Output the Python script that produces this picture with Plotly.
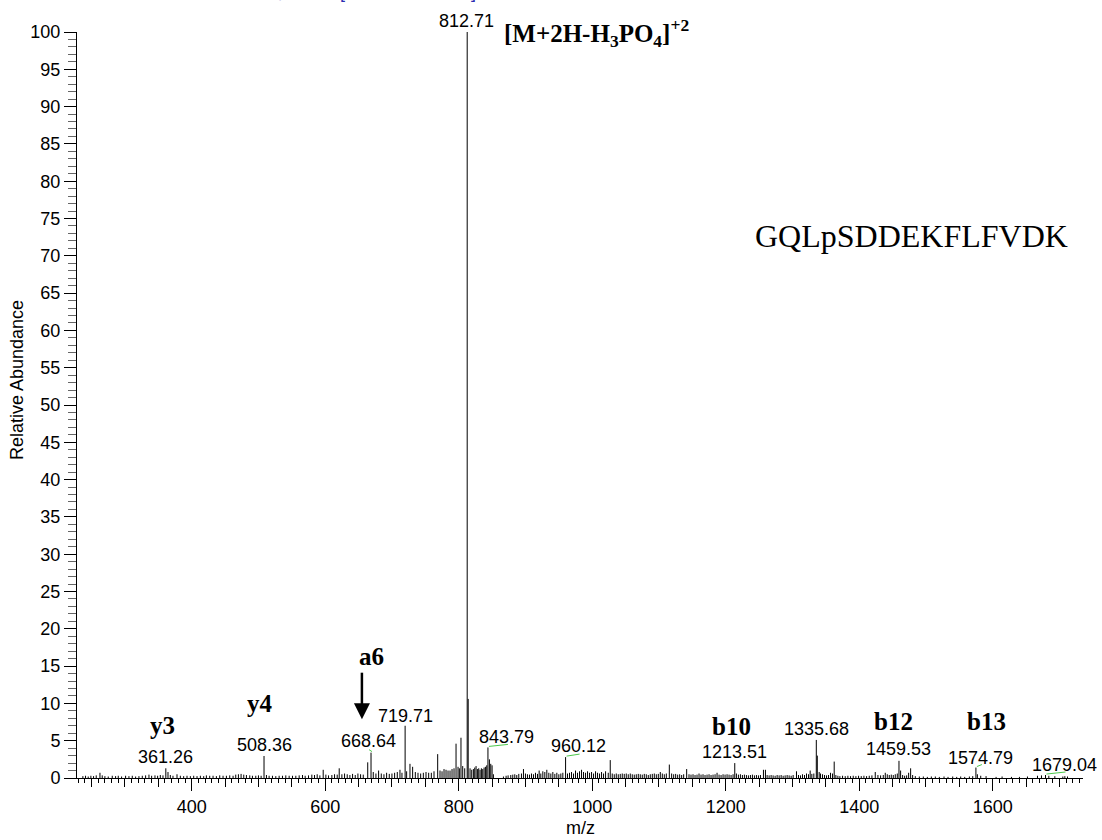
import plotly.graph_objects as go

# ---- spectrum data (m/z, relative abundance %) ----
labelled_mz = [361.26, 508.36, 668.64, 719.71, 812.71, 843.79,
               960.12, 1213.51, 1335.68, 1459.53, 1574.79, 1679.04]
labelled_rel = [1.3, 2.95, 3.4, 7.0, 100.0, 4.1,
                2.8, 2.0, 5.1, 2.3, 1.4, 0.4]

other_mz = [
    237, 241, 245, 249, 253, 257, 262.6, 266, 270, 275, 281, 286, 290, 295,
    301, 306, 311, 316, 321, 326, 331, 336, 340, 345, 349, 353, 357, 364.5, 368, 372, 378, 383, 388, 393, 398,
    403, 408, 413, 418, 422, 427, 432, 437, 442, 447, 452, 457, 462, 466, 470, 474, 478, 482, 487, 491, 496,
    500, 504, 512, 516, 521, 526, 531, 536, 541, 546, 551, 556, 561, 566, 570, 575, 580, 584, 588, 592, 597,
    601, 605, 610, 614, 618, 621, 625, 629, 633, 637, 641, 645, 649, 653, 657, 663.7, 672, 676, 680, 684, 688, 692, 696,
    700, 704, 708, 712, 715, 722, 727, 731, 735, 739, 743, 747, 751, 755, 759, 763, 768.5, 772, 775, 778, 781, 784, 787, 790, 793, 796, 799,
    801, 803.4, 806, 809, 814.2, 817, 819.5, 822, 824, 826, 828, 830, 832, 834, 836, 838, 840, 842, 846, 848, 850, 852, 867, 871, 874, 878, 881, 884, 887, 890, 894, 897,
    900, 903, 906, 909, 912, 915, 918, 920.5, 923, 926, 929, 932, 935, 938, 941, 944, 947, 950, 953, 956, 963, 966, 969, 972, 975, 978, 981, 984, 987, 990, 993, 996, 999,
    1002, 1005, 1008, 1011, 1014, 1017, 1020, 1024, 1027, 1030, 1033, 1036, 1039, 1042, 1045, 1048, 1051, 1054, 1057, 1060, 1063, 1066, 1069, 1072, 1075, 1078, 1081, 1084, 1087, 1090, 1093, 1096, 1099,
    1102, 1105, 1108, 1111, 1115.5, 1119, 1122, 1125, 1128, 1131, 1134, 1137, 1141.5, 1145, 1148, 1151, 1154, 1157, 1160, 1163, 1166, 1169, 1172, 1175, 1178, 1181, 1184, 1187, 1190, 1193, 1196, 1199,
    1202, 1205, 1208, 1211, 1216, 1219, 1222, 1225, 1228, 1231, 1234, 1237, 1240, 1243, 1246, 1249, 1252, 1256.5, 1259.5, 1262, 1265, 1268, 1271, 1274, 1277, 1280, 1283, 1286, 1289, 1292, 1295, 1298,
    1301, 1306, 1309, 1312, 1315, 1318, 1321, 1324, 1326.5, 1329, 1332, 1337.2, 1340, 1342, 1345, 1348, 1351, 1354, 1357, 1360, 1362.5, 1365, 1368, 1371, 1375, 1379, 1383, 1387, 1391, 1395, 1399,
    1403, 1407, 1411, 1415, 1419, 1424, 1428, 1432, 1436, 1439, 1442, 1445, 1448, 1451, 1454, 1457, 1462, 1465, 1468, 1471, 1474, 1477, 1480, 1484, 1490, 1496,
    1502, 1508, 1514, 1520, 1527, 1533, 1540, 1546, 1552, 1558, 1565, 1570, 1577, 1582, 1590, 1605, 1614, 1628, 1640, 1652, 1667, 1673, 1684, 1693, 1705, 1708, 1712,
]
other_rel = [
    0.25, 0.3, 0.2, 0.3, 0.25, 0.35, 0.7, 0.35, 0.25, 0.2, 0.3, 0.25, 0.3, 0.2,
    0.3, 0.25, 0.3, 0.2, 0.25, 0.3, 0.35, 0.45, 0.3, 0.35, 0.3, 0.4, 0.35, 0.8, 0.4, 0.3, 0.5, 0.3, 0.25, 0.3, 0.25,
    0.3, 0.25, 0.3, 0.25, 0.35, 0.3, 0.3, 0.25, 0.35, 0.3, 0.3, 0.35, 0.3, 0.45, 0.5, 0.55, 0.45, 0.4, 0.35, 0.3, 0.3,
    0.35, 0.3, 0.4, 0.3, 0.3, 0.25, 0.3, 0.3, 0.35, 0.3, 0.3, 0.3, 0.35, 0.4, 0.3, 0.35, 0.45, 0.4, 0.5, 0.35, 1.1,
    0.45, 0.35, 0.4, 0.5, 0.45, 1.3, 0.5, 0.6, 0.5, 0.4, 0.55, 0.4, 0.6, 0.5, 0.45, 2.1, 0.8, 0.6, 1.0, 0.6, 0.5, 0.7, 0.55,
    0.6, 0.7, 0.8, 1.1, 0.7, 0.9, 1.9, 1.5, 0.8, 0.7, 0.6, 0.7, 0.8, 0.7, 0.7, 0.9, 3.2, 1.0, 0.9, 1.2, 1.1, 1.0, 1.0, 1.2, 1.3, 4.6, 1.5,
    1.3, 5.4, 1.6, 1.3, 10.6, 1.3, 1.1, 1.2, 1.4, 1.6, 1.2, 1.3, 1.1, 1.3, 1.2, 1.4, 1.5, 1.7, 2.5, 1.9, 1.7, 0.5, 0.2, 0.3, 0.35, 0.4, 0.45, 0.5, 0.4, 0.55, 0.6, 1.2,
    0.6, 0.5, 0.45, 0.6, 0.5, 0.7, 0.55, 1.0, 0.6, 0.9, 0.8, 1.1, 0.7, 0.6, 0.8, 0.55, 0.7, 0.5, 0.6, 0.7, 0.6, 0.7, 0.8, 0.6, 1.0, 0.7, 0.9, 1.1, 0.8, 0.7, 0.9, 0.7, 0.8,
    0.6, 0.9, 0.7, 0.6, 0.8, 0.6, 0.9, 0.7, 2.4, 0.6, 0.5, 0.6, 0.5, 0.55, 0.6, 0.55, 0.6, 0.5, 0.6, 0.5, 0.45, 0.5, 0.55, 0.5, 0.45, 0.55, 0.5, 0.4, 0.5, 0.55, 0.6, 0.5, 0.55,
    0.8, 0.6, 0.5, 0.6, 1.8, 0.6, 0.5, 0.55, 0.45, 0.5, 0.4, 0.5, 1.2, 0.5, 0.45, 0.5, 0.4, 0.45, 0.6, 0.45, 0.5, 0.4, 0.45, 0.5, 0.4, 0.45, 0.5, 0.7, 0.45, 0.4, 0.5, 0.45,
    0.5, 0.45, 0.4, 0.5, 0.6, 0.45, 0.5, 0.4, 0.45, 0.4, 0.35, 0.4, 0.45, 0.35, 0.4, 0.35, 0.4, 1.1, 1.1, 0.4, 0.35, 0.4, 0.35, 0.3, 0.4, 0.35, 0.4, 0.3, 0.35, 0.4, 0.35, 0.3,
    0.4, 0.9, 0.4, 0.35, 0.5, 0.4, 0.6, 0.5, 1.0, 0.55, 0.6, 3.0, 0.8, 0.6, 0.5, 0.4, 0.35, 0.4, 0.7, 0.6, 2.2, 0.4, 0.3, 0.25, 0.3, 0.25, 0.3, 0.25, 0.3, 0.25, 0.3,
    0.25, 0.3, 0.25, 0.3, 0.35, 0.8, 0.4, 0.35, 0.4, 0.7, 0.5, 0.4, 0.45, 0.4, 0.5, 0.6, 1.0, 0.4, 0.3, 0.35, 0.7, 1.3, 0.4, 0.25, 0.2, 0.2,
    0.15, 0.2, 0.2, 0.15, 0.2, 0.15, 0.2, 0.15, 0.2, 0.15, 0.2, 0.25, 0.5, 0.3, 0.25, 0.15, 0.2, 0.15, 0.15, 0.2, 0.3, 0.35, 0.3, 0.25, 0.2, 0.25, 0.2,
]

# fragment ion annotations: text, x (m/z), y (relative abundance)
ion_text = ["y3", "y4", "a6", "b10", "b12", "b13"]
ion_x = [356.3, 501.9, 669.7, 1209.0, 1451.0, 1591.0]
ion_y = [7.1, 10.0, 16.35, 6.97, 7.64, 7.64]

sequence = "GQLpSDDEKFLFVDK"
precursor_label = "[M+2H-H<sub>3</sub>PO<sub>4</sub>]<sup>+2</sup>"
scan_header = "ITMS + c ESI d Full ms2 861.74@35.00 [230.00-1735.00]"

X_RANGE = [228.2, 1735.2]
SANS = "Liberation Sans, Arial, sans-serif"
SERIF = "Liberation Serif, Times New Roman, serif"

# label placement for the numbered peaks: (dx px, dy px above the peak top, green leader)
label_style = {
    361.26: (0, 11, False), 508.36: (0, 11, False), 668.64: (-3, 12, True),
    719.71: (0, 10, False), 812.71: (-1, 11, False), 843.79: (19, 10.5, True),
    960.12: (13, 11, True), 1213.51: (0, 11, False), 1335.68: (0, 10.5, False),
    1459.53: (0, 11.5, False), 1574.79: (5, 10, True), 1679.04: (19, 10, True),
}

# ---- stick spectrum ----
all_mz = list(other_mz) + list(labelled_mz)
all_rel = list(other_rel) + list(labelled_rel)
order = sorted(range(len(all_mz)), key=lambda i: all_mz[i])
xs, ys = [], []
for i in order:
    xs += [all_mz[i], all_mz[i], None]
    ys += [0, all_rel[i], None]

fig = go.Figure()
fig.add_trace(go.Scatter(x=xs, y=ys, mode="lines",
                         line=dict(color="black", width=1),
                         hoverinfo="skip", showlegend=False))
# companion axis carrying the 50-unit tick marks
fig.add_trace(go.Scatter(x=[], y=[], xaxis="x2", yaxis="y",
                         mode="lines", hoverinfo="skip", showlegend=False))

annotations = []
shapes = []
for mz, rel in zip(labelled_mz, labelled_rel):
    dx, dy, leader = label_style[mz]
    annotations.append(dict(
        x=mz, y=rel, xref="x", yref="y", text=f"{mz:.2f}", showarrow=False,
        xanchor="center", yanchor="middle", xshift=dx, yshift=dy,
        font=dict(family=SANS, size=18, color="black")))
    if leader:
        shapes.append(dict(
            type="line", xref="x", yref="y", xsizemode="pixel", ysizemode="pixel",
            xanchor=mz, yanchor=rel, x0=1, y0=1, x1=dx + 1, y1=3,
            line=dict(color="#4cc94c", width=1)))

for t, x, y in zip(ion_text, ion_x, ion_y):
    annotations.append(dict(
        x=x, y=y, xref="x", yref="y", text=f"<b>{t}</b>", showarrow=False,
        xanchor="center", yanchor="middle",
        font=dict(family=SERIF, size=25, color="black")))

# arrow pointing down toward the a6 ion
shapes.append(dict(type="line", xref="x", yref="y", xsizemode="pixel", ysizemode="pixel",
                   xanchor=655.0, yanchor=7.87, x0=0, x1=0, y0=14, y1=46.6,
                   line=dict(color="black", width=2.5)))
shapes.append(dict(type="path", xref="x", yref="y", xsizemode="pixel", ysizemode="pixel",
                   xanchor=655.0, yanchor=7.87, path="M-8,16 L8,16 L0,0 Z",
                   fillcolor="black", line=dict(color="black", width=0)))

annotations.append(dict(
    x=864.9, y=99.87, xref="x", yref="y", text=f"<b>{precursor_label}</b>",
    showarrow=False, xanchor="left", yanchor="middle",
    font=dict(family=SERIF, size=25, color="black")))
annotations.append(dict(
    x=1479, y=72.65, xref="x", yref="y", text=sequence, showarrow=False,
    xanchor="center", yanchor="middle",
    font=dict(family=SERIF, size=32, color="black")))
annotations.append(dict(
    x=0.3986, y=1, xref="paper", yref="paper", text=scan_header, showarrow=False,
    xanchor="right", yanchor="bottom", yshift=28,
    font=dict(family=SANS, size=18, color="#2b2bb0")))

# axis titles
annotations.append(dict(
    x=-0.0596, y=0.5335, xref="paper", yref="paper", text="Relative Abundance",
    textangle=-90, showarrow=False, xanchor="center", yanchor="middle",
    font=dict(family=SANS, size=18, color="black")))
annotations.append(dict(
    x=0.5, y=-0.067, xref="paper", yref="paper", text="m/z", showarrow=False,
    xanchor="center", yanchor="middle",
    font=dict(family=SANS, size=18, color="black")))

fig.update_layout(
    width=1102, height=840,
    margin=dict(l=77, r=19, t=32, b=62),
    paper_bgcolor="white", plot_bgcolor="white",
    showlegend=False,
    annotations=annotations, shapes=shapes,
    xaxis=dict(
        range=X_RANGE, tickmode="linear", tick0=0, dtick=200,
        ticks="outside", ticklen=12, tickwidth=1, tickcolor="black",
        showline=True, linecolor="black", linewidth=1,
        showgrid=False, zeroline=False,
        tickfont=dict(family=SANS, size=18, color="black"),
        minor=dict(tickmode="linear", tick0=0, dtick=10, ticks="outside",
                   ticklen=4, tickwidth=1, tickcolor="black", showgrid=False),
    ),
    xaxis2=dict(
        range=X_RANGE, overlaying="x", anchor="y", side="bottom",
        tickmode="linear", tick0=0, dtick=50, ticks="outside", ticklen=8,
        tickwidth=1, tickcolor="black", showticklabels=False,
        showline=False, showgrid=False, zeroline=False,
    ),
    yaxis=dict(
        range=[0, 100], tickmode="linear", tick0=0, dtick=5,
        ticks="outside", ticklen=12, tickwidth=1, tickcolor="black",
        showline=True, linecolor="black", linewidth=1,
        showgrid=False, zeroline=False,
        tickfont=dict(family=SANS, size=18, color="black"),
        minor=dict(tickmode="linear", tick0=0, dtick=1, ticks="outside",
                   ticklen=8, tickwidth=1, tickcolor="#666666", showgrid=False),
    ),
)

fig.write_html("out.html")
